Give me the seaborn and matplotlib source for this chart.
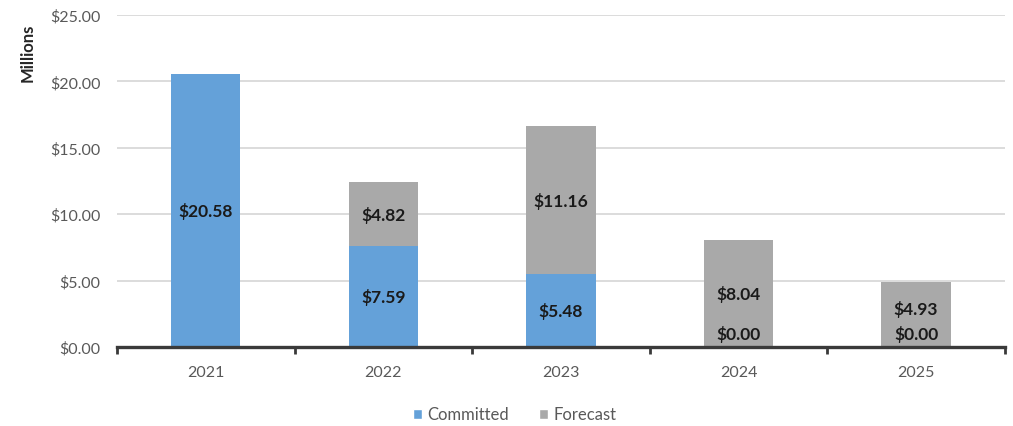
import matplotlib
matplotlib.use("Agg")
import matplotlib.pyplot as plt
import seaborn as sns
import pandas as pd
from matplotlib.patches import Patch
from matplotlib.ticker import FuncFormatter, MultipleLocator, FixedLocator

years = ["2021", "2022", "2023", "2024", "2025"]
committed = [20.58, 7.59, 5.48, 0.00, 0.00]
forecast = [0.00, 4.82, 11.16, 8.04, 4.93]

BLUE = "#64a1d9"
GRAY = "#a9a9a9"

sns.set_theme(style="white")
plt.rcParams["font.family"] = ["Lato", "DejaVu Sans"]

df = pd.DataFrame({"year": years, "committed": committed, "forecast": forecast})

fig = plt.figure(figsize=(10.13, 4.27), dpi=100)
ax = fig.add_axes([0.1155, 0.185, 0.8765, 0.7775])

sns.barplot(data=df, x="year", y="committed", color=BLUE, width=0.39,
            saturation=1, ax=ax, edgecolor="none", zorder=3)
sns.barplot(data=df, x="year", y="forecast", color=GRAY, width=0.39,
            saturation=1, ax=ax, bottom=df["committed"], edgecolor="none",
            zorder=3)

ax.set_xlim(-0.5, 4.5)
ax.set_ylim(0, 25)
ax.yaxis.set_major_locator(MultipleLocator(5))
ax.yaxis.set_major_formatter(FuncFormatter(lambda v, p: f"${v:,.2f}"))
ax.grid(axis="y", color="#d9d9d9", linewidth=1.3, zorder=0)
ax.grid(axis="x", visible=False)

for s in ["top", "right", "left"]:
    ax.spines[s].set_visible(False)
ax.spines["bottom"].set_color("#3a3a3a")
ax.spines["bottom"].set_linewidth(2.4)
ax.spines["bottom"].set_zorder(5)

ax.set_xlabel("")
ax.set_ylabel("")
ax.tick_params(axis="y", length=0, pad=12, labelsize=11.5, labelcolor="#595959")
ax.tick_params(axis="x", which="major", length=0, pad=13, labelsize=11.5,
               labelcolor="#595959")
ax.xaxis.set_minor_locator(FixedLocator([i - 0.5 for i in range(len(years) + 1)]))
ax.tick_params(axis="x", which="minor", length=5, width=2, color="#3a3a3a",
               direction="out", bottom=True)

# value labels, centred in each segment
for i, (c, f) in enumerate(zip(committed, forecast)):
    segs = []
    if c > 0 or (f > 0 and i > 0):
        segs.append((c, 0.0))
    if f > 0:
        segs.append((f, c))
    for val, base in segs:
        txt = f"${val:,.2f}"
        if val == 0:
            ax.annotate(txt, xy=(i, base), xytext=(0, 10), textcoords="offset points",
                        ha="center", va="center", fontsize=12.5, fontweight="bold",
                        color="#1a1a1a", zorder=6)
        else:
            ypos = base + val / 2
            if base == 0 and c == 0:
                ypos = max(ypos, 2.9)
            ax.text(i, ypos, txt, ha="center", va="center", fontsize=12.5,
                    fontweight="bold", color="#1a1a1a", zorder=6)

fig.text(0.027, 0.876, "Millions", rotation=90, ha="center", va="center",
         fontsize=12, fontweight="bold", color="#262626")

handles = [Patch(facecolor=BLUE, label="Committed"),
           Patch(facecolor=GRAY, label="Forecast")]
fig.legend(handles=handles, loc="center", bbox_to_anchor=(0.508, 0.027), ncol=2,
           frameon=False, fontsize=12, handlelength=0.55, handleheight=0.55,
           handletextpad=0.3, columnspacing=1.8, labelcolor="#595959")

fig.savefig("out.png", dpi=100)
